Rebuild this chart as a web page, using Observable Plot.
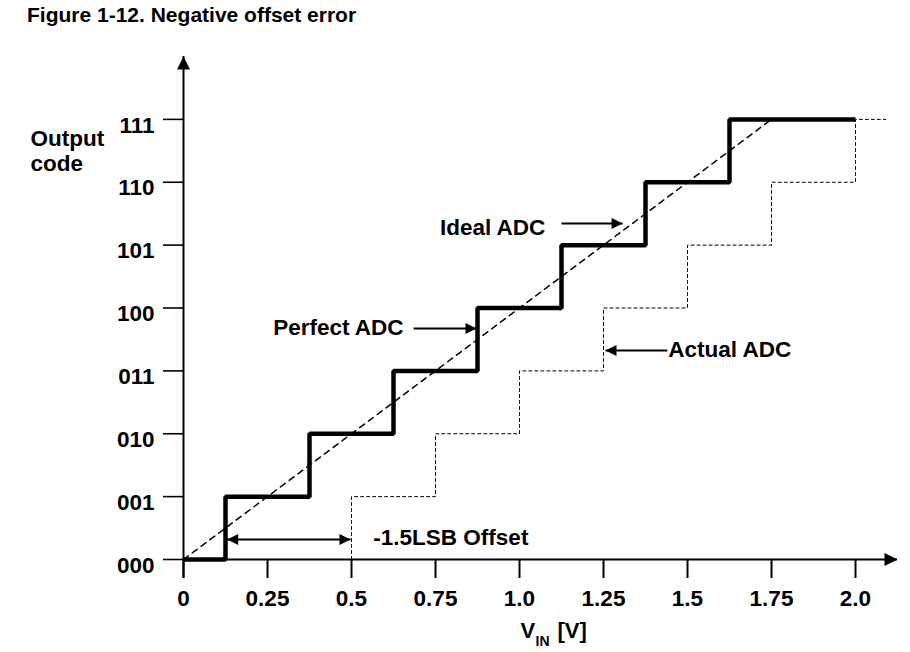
<!DOCTYPE html>
<html><head><meta charset="utf-8">
<script src="https://cdn.jsdelivr.net/npm/d3@7"></script>
<script src="https://cdn.jsdelivr.net/npm/@observablehq/plot@0.6"></script>
<style>
body{margin:0;background:#fff;font-family:"Liberation Sans",Arial,sans-serif;}
#title{height:30px;box-sizing:border-box;padding:4px 0 0 27px;font-weight:bold;font-size:21px;line-height:22px;color:#000;}
</style></head><body>
<div id="title">Figure 1-12. Negative offset error</div>
<div id="chart"></div>
<script>
// ---- data ----
const xTicks = [0, 0.25, 0.5, 0.75, 1.0, 1.25, 1.5, 1.75, 2.0];
const xTickLabels = ["0", "0.25", "0.5", "0.75", "1.0", "1.25", "1.5", "1.75", "2.0"];
const yCodes = [0, 1, 2, 3, 4, 5, 6, 7];
const yTickLabels = ["000", "001", "010", "011", "100", "101", "110", "111"];

const perfectX = [0, 0.125, 0.375, 0.625, 0.875, 1.125, 1.375, 1.625, 2.0];
const perfectY = [0, 1, 2, 3, 4, 5, 6, 7, 7];
const actualX = [0.5, 0.75, 1.0, 1.25, 1.5, 1.75, 2.0, 2.09];
const actualY = [0, 1, 2, 3, 4, 5, 6, 7];
const idealX = [0, 1.75];
const idealY = [0, 7];

const labelText = ["Ideal ADC", "Perfect ADC", "Actual ADC", "-1.5LSB Offset"];
const labelX = [1.077, 0.655, 1.443, 0.565];
const labelY = [5.27, 3.69, 3.34, 0.35];
const labelAnchor = ["end", "end", "start", "start"];

const arrowFrom = [1.125, 0.685, 1.44, 0.13];
const arrowTo = [1.307, 0.872, 1.256, 0.497];
const arrowY = [5.345, 3.675, 3.325, 0.318];
const arrowDouble = [false, false, false, true];

const xAxisEnd = 2.125, yAxisEnd = 8, yAxisLow = -0.3;
const xLabelX = 1.003, xLabelY = -1.13;

// ---- tables ----
const perfect = perfectX.map((x, i) => ({x, y: perfectY[i]}));
const actual = actualX.map((x, i) => ({x, y: actualY[i]}));
const ideal = idealX.map((x, i) => ({x, y: idealY[i]}));
const labels = labelText.map((t, i) => ({text: t, x: labelX[i], y: labelY[i], anchor: labelAnchor[i]}));
const arrows = arrowFrom.map((x1, i) => ({x1, x2: arrowTo[i], y: arrowY[i]}));
const heads = [];
arrows.forEach((a, i) => {
  heads.push({x: a.x2, y: a.y, r: a.x2 > a.x1 ? 90 : -90});
  if (arrowDouble[i]) heads.push({x: a.x1, y: a.y, r: a.x2 > a.x1 ? -90 : 90});
});
const axisHeads = [{x: xAxisEnd, y: 0, r: 90}, {x: 0, y: yAxisEnd, r: 0}];

const headShape = {
  draw(context, l) {
    const w = l * 0.5;
    context.moveTo(0, -l);
    context.lineTo(w, 0);
    context.lineTo(-w, 0);
    context.closePath();
  }
};

const font = "'Liberation Sans', Arial, sans-serif";
const fs = 22.5;

const chart = Plot.plot({
  width: 910, height: 622,
  marginLeft: 183, marginRight: 13, marginTop: 26, marginBottom: 93,
  x: {domain: [0, xAxisEnd]},
  y: {domain: [0, yAxisEnd]},
  style: {fontFamily: font, fontWeight: "bold", fontSize: fs + "px", color: "#000", background: "#fff", overflow: "visible"},
  marks: [
    Plot.axisX({ticks: xTicks, tickFormat: d => xTickLabels[xTicks.indexOf(d)], tickSize: 19, tickPadding: 12,
      strokeWidth: 2, fontSize: fs, fontWeight: "bold", label: null}),
    Plot.axisY({ticks: yCodes, tickFormat: () => "", tickSize: 20, strokeWidth: 1.6, label: null}),
    Plot.axisY({ticks: yCodes, tickFormat: d => yTickLabels[d], tickSize: 0, tickPadding: 29,
      fontSize: fs, fontWeight: "bold", dy: 6, label: null}),
    Plot.ruleY([0], {x1: 0, x2: xAxisEnd, strokeWidth: 2}),
    Plot.ruleX([0], {y1: yAxisLow, y2: yAxisEnd, strokeWidth: 2}),
    Plot.vector(axisHeads, {x: "x", y: "y", rotate: "r", length: 13, anchor: "end", shape: headShape, fill: "black", stroke: "none"}),
    Plot.line(ideal, {x: "x", y: "y", strokeWidth: 1.5, strokeDasharray: "6,5"}),
    Plot.line(actual, {x: "x", y: "y", curve: "step-before", strokeWidth: 1, strokeDasharray: "3,3"}),
    Plot.line(perfect, {x: "x", y: "y", curve: "step-after", strokeWidth: 4.5, strokeLinejoin: "miter", strokeLinecap: "butt"}),
    Plot.link(arrows, {x1: "x1", x2: "x2", y1: "y", y2: "y", strokeWidth: 2}),
    Plot.vector(heads, {x: "x", y: "y", rotate: "r", length: 11, anchor: "end", shape: headShape, fill: "black", stroke: "none"}),
    Plot.text(labels.filter(d => d.anchor === "end"), {x: "x", y: "y", text: "text", textAnchor: "end", lineAnchor: "middle", fontSize: fs, fontWeight: "bold"}),
    Plot.text(labels.filter(d => d.anchor === "start"), {x: "x", y: "y", text: "text", textAnchor: "start", lineAnchor: "middle", fontSize: fs, fontWeight: "bold"}),
    Plot.text(["Output\ncode"], {x: 0, y: 6.5, dx: -153, textAnchor: "start", lineAnchor: "middle", fontSize: 22.5, lineHeight: 1.12, fontWeight: "bold"}),
    Plot.text(["V"], {x: xLabelX, y: xLabelY, textAnchor: "start", lineAnchor: "middle", fontSize: 22, fontWeight: "bold"}),
    Plot.text(["IN"], {x: xLabelX, y: xLabelY, dx: 15, dy: 11, textAnchor: "start", lineAnchor: "middle", fontSize: 14, fontWeight: "bold"}),
    Plot.text(["[V]"], {x: xLabelX, y: xLabelY, dx: 37, textAnchor: "start", lineAnchor: "middle", fontSize: 22, fontWeight: "bold"})
  ]
});
document.getElementById("chart").appendChild(chart);
</script>
</body></html>
